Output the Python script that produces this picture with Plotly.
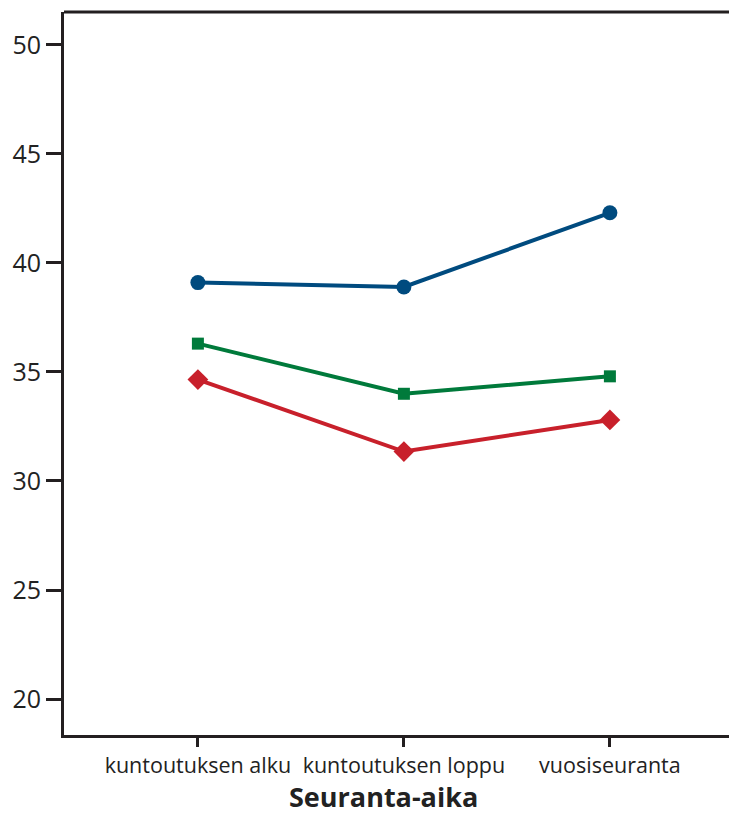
import plotly.graph_objects as go

categories = ["kuntoutuksen alku", "kuntoutuksen loppu", "vuosiseuranta"]
blue_vals = [39.1, 38.9, 42.3]
green_vals = [36.3, 34.0, 34.8]
red_vals = [34.65, 31.35, 32.8]
y_ticks = [20, 25, 30, 35, 40, 45, 50]
x_title = "Seuranta-aika"

fig = go.Figure()
series = [
    (blue_vals, "#004b7f", "circle", 15),
    (green_vals, "#007a3b", "square", 12),
    (red_vals, "#c8202b", "diamond", 16),
]
for vals, col, sym, sz in series:
    fig.add_trace(go.Scatter(
        x=[0, 1, 2], y=vals, mode="lines+markers",
        line=dict(color=col, width=4),
        marker=dict(symbol=sym, size=sz, color=col),
        showlegend=False, cliponaxis=False,
    ))

fig.update_layout(
    width=729, height=806,
    margin=dict(l=56, r=0, t=4, b=79),
    paper_bgcolor="white", plot_bgcolor="white",
    font=dict(family="Open Sans, Noto Sans, sans-serif", color="#222"),
    xaxis=dict(
        range=[-0.650, 2.617], tickmode="array", tickvals=[0, 1, 2],
        ticktext=categories, showgrid=False, zeroline=False,
        showline=True, linecolor="#231f20", linewidth=3,
        ticks="outside", ticklen=9, tickwidth=3, tickcolor="#231f20",
        tickfont=dict(size=21.5, color="#222"),
    ),
    yaxis=dict(
        range=[18.35, 51.51], tickmode="array", tickvals=y_ticks,
        showgrid=False, zeroline=False,
        showline=True, linecolor="#231f20", linewidth=3,
        ticks="outside", ticklen=15, tickwidth=3, tickcolor="#231f20",
        tickfont=dict(size=25, color="#222"),
    ),
    shapes=[dict(type="line", xref="paper", yref="paper", x0=0, x1=1, y0=1, y1=1,
                 line=dict(color="#231f20", width=3))],
    annotations=[dict(text="<b>" + x_title + "</b>", xref="paper", yref="paper",
                      x=0.474, y=-0.0844, xanchor="center", yanchor="middle",
                      showarrow=False, font=dict(size=27, color="#222"))],
)

fig.write_html("out.html")
